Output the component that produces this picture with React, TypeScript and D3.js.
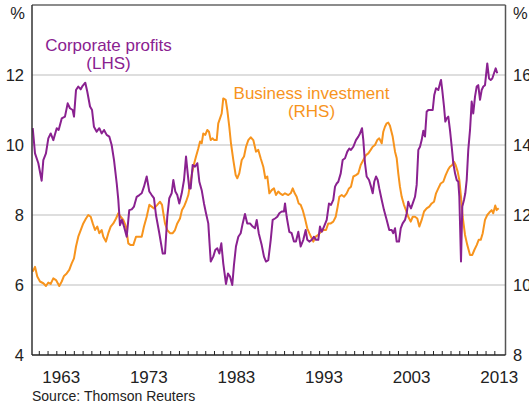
import React from "react";
import * as d3 from "d3";

// Corporate profits (LHS, %), [decimal year, value]
const profitYears = [1960.25,1960.51,1960.89,1961.27,1961.46,1961.76,1962.03,1962.30,1962.60,1962.99,1963.21,1963.56,1963.93,1964.24,1964.50,1964.81,1964.96,1965.19,1965.45,1965.73,1965.95,1966.25,1966.48,1966.79,1967.02,1967.24,1967.55,1967.85,1968.12,1968.39,1968.69,1968.99,1969.26,1969.53,1969.84,1970.02,1970.21,1970.44,1970.67,1970.98,1971.27,1971.55,1971.81,1972.12,1972.42,1972.69,1972.95,1973.26,1973.56,1973.83,1974.09,1974.32,1974.70,1975.09,1975.35,1975.61,1975.84,1976.11,1976.30,1976.53,1976.75,1976.98,1977.26,1977.52,1977.75,1977.94,1978.12,1978.28,1978.51,1978.77,1979.04,1979.27,1979.54,1979.80,1980.03,1980.29,1980.57,1980.86,1981.09,1981.32,1981.55,1981.78,1982.00,1982.31,1982.54,1982.77,1983.03,1983.22,1983.45,1983.72,1983.99,1984.22,1984.48,1984.74,1985.05,1985.36,1985.62,1985.82,1986.05,1986.39,1986.65,1986.88,1987.14,1987.42,1987.64,1987.91,1988.17,1988.40,1988.67,1988.93,1989.05,1989.24,1989.54,1989.81,1990.07,1990.30,1990.57,1990.84,1991.14,1991.41,1991.59,1991.82,1992.10,1992.36,1992.59,1992.85,1993.04,1993.24,1993.50,1993.81,1994.07,1994.30,1994.56,1994.76,1994.95,1995.13,1995.41,1995.63,1995.90,1996.16,1996.39,1996.58,1996.85,1997.15,1997.42,1997.61,1997.84,1997.99,1998.18,1998.37,1998.64,1998.87,1999.06,1999.24,1999.44,1999.63,1999.81,2000.09,2000.35,2000.66,2000.95,2001.23,2001.41,2001.61,2001.80,2002.06,2002.26,2002.48,2002.75,2002.94,2003.12,2003.24,2003.43,2003.63,2003.89,2004.08,2004.27,2004.46,2004.65,2004.84,2005.03,2005.22,2005.41,2005.60,2005.91,2006.09,2006.29,2006.55,2006.74,2006.86,2007.00,2007.20,2007.35,2007.51,2007.69,2007.88,2008.08,2008.26,2008.46,2008.65,2008.83,2008.95,2009.14,2009.29,2009.48,2009.63,2009.79,2009.97,2010.17,2010.36,2010.54,2010.74,2010.93,2011.11,2011.31,2011.50,2011.69,2011.88,2012.14,2012.34,2012.53,2012.71,2012.91,2013.10,2013.28];
const profitValues = [10.48,9.76,9.48,8.98,9.57,9.76,10.19,10.33,10.14,10.48,10.43,10.76,10.81,11.19,11.05,11.0,10.81,11.57,11.67,11.59,11.69,11.78,11.52,11.1,11.0,10.52,10.38,10.48,10.33,10.43,10.29,10.24,10.0,9.57,8.9,8.43,7.71,7.86,7.67,7.38,8.14,8.16,8.24,8.52,8.57,8.62,8.81,9.1,8.67,8.57,8.48,8.0,7.48,6.9,6.9,7.95,8.48,8.62,9.0,8.67,8.57,8.33,8.62,9.0,9.67,9.19,8.76,8.76,9.43,9.38,9.48,8.95,8.71,8.33,8.05,7.76,6.67,6.81,7.0,7.05,6.9,7.19,6.62,6.03,6.33,6.24,6.0,6.57,7.1,7.38,7.48,7.76,8.03,7.76,7.76,7.67,7.62,7.86,7.48,7.14,6.81,6.67,6.71,7.29,7.86,7.9,7.95,8.05,8.1,8.1,8.33,7.95,7.52,7.48,7.24,7.24,7.52,7.1,7.29,7.57,7.29,7.24,7.29,7.38,7.29,7.29,7.67,7.52,7.67,7.86,8.33,8.29,8.43,8.81,8.9,8.95,9.19,9.57,9.62,9.81,9.9,9.86,9.95,10.14,10.24,10.33,10.48,10.14,9.48,9.1,9.0,8.81,8.62,8.95,9.1,9.0,8.76,8.43,8.14,7.86,7.57,7.57,7.48,7.62,7.24,7.24,7.62,7.76,7.86,8.05,8.38,8.29,8.19,8.33,8.52,8.86,9.86,9.95,10.14,10.41,10.24,10.95,11.0,11.0,11.0,11.43,11.62,11.57,11.76,11.86,11.57,11.1,10.67,10.76,10.81,10.43,9.95,9.48,9.19,9.0,8.95,8.52,6.67,8.24,8.43,8.62,9.0,9.86,10.43,11.24,10.9,11.38,11.67,11.71,11.29,11.57,11.67,11.71,12.33,11.9,11.86,11.9,12.05,12.19,12.05];

// Business investment (RHS, %)
const investYears = [1960.25,1960.51,1960.77,1961.08,1961.46,1961.76,1962.03,1962.30,1962.60,1962.91,1963.28,1963.56,1963.82,1964.13,1964.42,1964.70,1964.96,1965.19,1965.45,1965.73,1966.02,1966.33,1966.59,1966.87,1967.10,1967.36,1967.62,1967.85,1968.12,1968.31,1968.61,1968.88,1969.15,1969.45,1969.76,1970.02,1970.29,1970.59,1970.90,1971.16,1971.43,1971.73,1972.04,1972.30,1972.69,1972.95,1973.26,1973.56,1973.83,1974.09,1974.47,1974.78,1975.01,1975.16,1975.35,1975.61,1975.92,1976.23,1976.49,1976.75,1977.06,1977.29,1977.52,1977.75,1978.01,1978.20,1978.40,1978.58,1978.89,1979.15,1979.35,1979.54,1979.72,1979.95,1980.18,1980.37,1980.57,1980.79,1980.98,1981.25,1981.43,1981.63,1981.82,1982.00,1982.28,1982.46,1982.69,1982.88,1983.15,1983.42,1983.60,1983.83,1984.11,1984.37,1984.60,1984.86,1985.13,1985.43,1985.74,1986.00,1986.27,1986.57,1986.80,1987.03,1987.26,1987.53,1987.79,1988.02,1988.28,1988.48,1988.79,1989.05,1989.43,1989.70,1989.93,1990.16,1990.38,1990.61,1990.84,1991.07,1991.33,1991.59,1991.82,1992.10,1992.28,1992.55,1992.85,1993.12,1993.42,1993.73,1993.99,1994.27,1994.56,1994.84,1995.06,1995.25,1995.52,1995.78,1996.09,1996.35,1996.58,1996.85,1997.15,1997.42,1997.69,1997.99,1998.29,1998.56,1998.83,1999.06,1999.32,1999.58,1999.81,2000.09,2000.27,2000.46,2000.66,2000.84,2001.03,2001.34,2001.61,2001.80,2001.98,2002.17,2002.37,2002.63,2002.86,2003.12,2003.40,2003.63,2003.89,2004.15,2004.38,2004.65,2004.92,2005.22,2005.52,2005.79,2006.06,2006.29,2006.55,2006.82,2007.12,2007.39,2007.66,2007.88,2008.14,2008.34,2008.53,2008.76,2008.95,2009.14,2009.33,2009.60,2009.86,2010.17,2010.43,2010.66,2010.93,2011.16,2011.39,2011.62,2011.88,2012.14,2012.37,2012.64,2012.82,2013.05,2013.21,2013.44];
const investValues = [10.38,10.52,10.24,10.1,10.05,9.97,10.07,10.03,10.19,10.14,9.97,10.1,10.26,10.33,10.43,10.62,10.76,11.1,11.38,11.57,11.76,11.9,12.0,11.95,11.76,11.57,11.67,11.48,11.57,11.38,11.24,11.48,11.67,11.76,11.9,12.05,11.95,11.86,11.67,11.19,11.14,11.14,11.38,11.38,11.38,11.67,11.95,12.29,12.24,12.19,12.29,12.38,12.29,12.05,11.76,11.57,11.48,11.48,11.57,11.76,11.9,12.14,12.24,12.38,12.57,12.86,13.14,13.38,13.67,13.9,14.1,14.05,14.33,14.29,14.43,14.38,14.14,14.19,14.14,14.14,14.62,14.76,14.9,15.33,15.29,15.0,14.52,14.05,13.57,13.14,13.05,13.19,13.57,13.67,13.95,14.14,14.22,14.14,13.81,13.86,13.62,13.38,13.05,13.1,12.62,12.71,12.76,12.57,12.67,12.62,12.57,12.62,12.57,12.62,12.76,12.62,12.52,12.33,12.29,12.14,11.9,11.62,11.48,11.33,11.24,11.38,11.43,11.52,11.57,11.57,11.76,11.76,11.81,11.95,12.24,12.52,12.57,12.52,12.62,12.76,12.81,13.1,13.14,13.19,13.43,13.57,13.71,13.76,13.86,13.95,14.0,14.14,14.19,14.05,14.38,14.52,14.62,14.64,14.55,14.24,13.81,13.62,13.19,12.81,12.52,12.29,12.14,11.95,11.81,11.95,11.95,11.9,11.67,11.86,12.1,12.19,12.24,12.33,12.38,12.62,12.76,12.9,12.95,13.14,13.29,13.38,13.43,13.52,13.43,13.24,13.0,12.52,11.95,11.43,11.14,10.86,10.86,11.0,11.14,11.29,11.29,11.48,11.86,12.0,12.07,12.14,12.05,12.27,12.14,12.19];

const leftTicks = [4, 6, 8, 10, 12];
const rightTicks = [8, 10, 12, 14, 16];
const gridValues = [6, 8, 10, 12];
const yearLabels = [1963, 1973, 1983, 1993, 2003, 2013];
const tickYears = d3.range(1961, 2014);

const PURPLE = "#8a2190";
const ORANGE = "#f7941d";

export default function App() {
  const W = 529, H = 407;
  const x0 = 32, x1 = 505.5, yTop = 5, yBot = 355;
  const x = d3.scaleLinear().domain([1960.167, 2014.22]).range([x0, x1]);
  const yL = d3.scaleLinear().domain([4, 14]).range([yBot, yTop]);
  const yR = d3.scaleLinear().domain([8, 18]).range([yBot, yTop]);

  const profit = profitYears.map((t, i) => [t, profitValues[i]] as [number, number]);
  const invest = investYears.map((t, i) => [t, investValues[i]] as [number, number]);
  const lineL = d3.line<[number, number]>().x(d => x(d[0])).y(d => yL(d[1]));
  const lineR = d3.line<[number, number]>().x(d => x(d[0])).y(d => yR(d[1]));

  const font = "'Liberation Sans', Arial, sans-serif";

  return (
    <svg width={W} height={H} style={{ position: "absolute", left: 0, top: 0, fontFamily: font }}>
      <rect x={0} y={0} width={W} height={H} fill="#fff" />
      {gridValues.map(v => (
        <line key={v} x1={x0} x2={x1} y1={yL(v)} y2={yL(v)} stroke="#bdbdbd" strokeWidth={1} />
      ))}
      <path d={lineR(invest) || ""} fill="none" stroke={ORANGE} strokeWidth={2} strokeLinejoin="round" />
      <path d={lineL(profit) || ""} fill="none" stroke={PURPLE} strokeWidth={2} strokeLinejoin="round" />
      {/* frame */}
      <line x1={x0} x2={x1} y1={yTop} y2={yTop} stroke="#666" strokeWidth={1.5} />
      <line x1={x0} x2={x0} y1={yTop} y2={yBot} stroke="#333" strokeWidth={1.5} />
      <line x1={x1} x2={x1} y1={yTop} y2={yBot} stroke="#555" strokeWidth={1.5} />
      <line x1={x0} x2={x1} y1={yBot} y2={yBot} stroke="#222" strokeWidth={1.5} />
      {tickYears.map(t => (
        <line key={t} x1={x(t)} x2={x(t)} y1={yBot} y2={yBot - 4} stroke="#222" strokeWidth={1} />
      ))}
      {yearLabels.map(t => (
        <text key={t} x={x(t + 0.5)} y={383} textAnchor="middle" fontSize={17} fill="#222">{t}</text>
      ))}
      {leftTicks.map(v => (
        <text key={v} x={24} y={yL(v) + 6} textAnchor="end" fontSize={16.5} fill="#222">{v}</text>
      ))}
      {rightTicks.map(v => (
        <text key={v} x={513} y={yR(v) + 6} textAnchor="start" fontSize={16.5} fill="#222">{v}</text>
      ))}
      <text x={25} y={19} textAnchor="end" fontSize={16.5} fill="#222">%</text>
      <text x={513} y={19} textAnchor="start" fontSize={16.5} fill="#222">%</text>
      <text x={108.5} y={50.5} textAnchor="middle" fontSize={17} fill={PURPLE}>Corporate profits</text>
      <text x={108.5} y={68.5} textAnchor="middle" fontSize={17} fill={PURPLE}>(LHS)</text>
      <text x={311.5} y={98.5} textAnchor="middle" fontSize={17} fill={ORANGE}>Business investment</text>
      <text x={311.5} y={116.5} textAnchor="middle" fontSize={17} fill={ORANGE}>(RHS)</text>
      <text x={32} y={401} fontSize={14} fill="#222">Source: Thomson Reuters</text>
    </svg>
  );
}
